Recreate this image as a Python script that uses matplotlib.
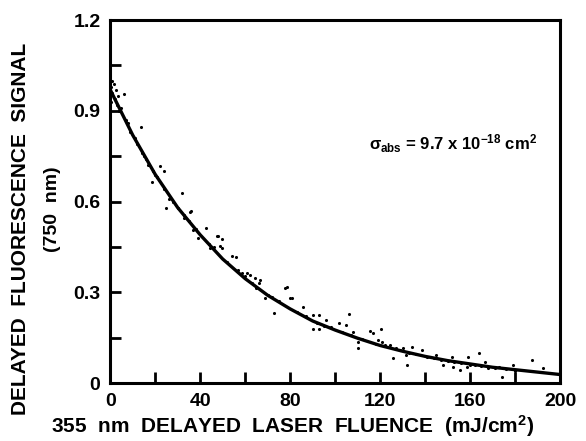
import matplotlib
matplotlib.use("Agg")
import matplotlib.pyplot as plt
from matplotlib.ticker import MultipleLocator, FixedLocator

plt.rcParams["font.family"] = ["Liberation Sans", "DejaVu Sans"]
plt.rcParams["font.weight"] = "bold"
plt.rcParams["mathtext.fontset"] = "custom"
plt.rcParams["mathtext.rm"] = "Liberation Sans:bold"
plt.rcParams["mathtext.it"] = "Liberation Sans:bold"
plt.rcParams["mathtext.bf"] = "Liberation Sans:bold"

# fitted curve
fit_x = [0, 10, 20, 30, 40, 50, 60, 70, 80, 90, 100,
         110, 120, 130, 140, 150, 160, 170, 180, 190, 200]
fit_y = [0.97, 0.82, 0.69, 0.58, 0.49, 0.41, 0.345, 0.29, 0.245, 0.205, 0.175,
         0.148, 0.124, 0.105, 0.088, 0.074, 0.063, 0.052, 0.044, 0.036, 0.028]

dots_x = [0.5, 1, 1.5, 2, 2.5, 3, 1, 0.5, 3.5, 4, 5, 7, 8, 9, 11, 12, 14, 15,
          16, 17, 19, 21, 24, 26, 28, 30, 33, 35, 38, 44, 46, 52, 57, 60, 63,
          65, 70, 72, 75, 83, 87, 92, 95, 98, 103, 107, 112, 118, 122, 127,
          129, 133, 136, 141, 144, 147, 150, 153, 156, 160, 162, 165, 168,
          171, 176, 180,
          6.2, 13.8, 22, 20, 24, 18.7, 32, 25, 35.5, 36, 33, 37, 39, 42.7,
          47.5, 49.6, 49.6, 44.4, 54, 56, 58.7, 62, 64.4, 66, 78.6, 48, 49,
          60.8, 66.7, 69, 77.8, 73, 80, 80.7, 85.8, 90, 93, 90, 93, 96,
          101.8, 106, 105, 108, 110, 110, 115.6, 117, 120.4, 119, 121, 125.8,
          124.4, 130, 132, 134, 138.7, 131.6, 145, 152, 159, 164, 148, 155.6,
          166.7, 173, 174, 179, 187.6, 192.4, 158.7, 152.4]
dots_y = [0.98, 0.96, 0.99, 0.94, 0.97, 0.92, 1.0, 0.93, 0.95, 0.90, 0.91,
          0.87, 0.86, 0.83, 0.81, 0.79, 0.76, 0.75, 0.74, 0.72, 0.70, 0.68,
          0.64, 0.61, 0.60, 0.58, 0.555, 0.535, 0.51, 0.46, 0.45, 0.40, 0.375,
          0.355, 0.33, 0.315, 0.29, 0.285, 0.27, 0.235, 0.22, 0.20, 0.19,
          0.185, 0.17, 0.16, 0.145, 0.13, 0.125, 0.115, 0.11, 0.10, 0.095,
          0.085, 0.082, 0.075, 0.072, 0.07, 0.065, 0.06, 0.058, 0.055, 0.05,
          0.048, 0.045, 0.04,
          0.955, 0.846, 0.717, 0.688, 0.70, 0.665, 0.628, 0.58, 0.565, 0.568,
          0.545, 0.506, 0.48, 0.512, 0.486, 0.476, 0.446, 0.446, 0.42, 0.417,
          0.364, 0.357, 0.347, 0.33, 0.317, 0.486, 0.453, 0.364, 0.34, 0.28,
          0.314, 0.23, 0.28, 0.281, 0.252, 0.225, 0.225, 0.18, 0.178, 0.208,
          0.198, 0.228, 0.192, 0.169, 0.136, 0.116, 0.172, 0.165, 0.178,
          0.142, 0.136, 0.083, 0.126, 0.116, 0.06, 0.119, 0.109, 0.093, 0.093,
          0.086, 0.086, 0.099, 0.06, 0.043, 0.069, 0.053, 0.02, 0.06, 0.076,
          0.05, 0.053, 0.053]

x_ticks = [0, 40, 80, 120, 160, 200]
y_ticks = [0, 0.3, 0.6, 0.9, 1.2]
y_tick_labels = ["0", "0.3", "0.6", "0.9", "1.2"]

fig = plt.figure(figsize=(5.86, 4.41), dpi=100)
ax = fig.add_axes([0.188, 0.1315, 0.768, 0.823])

ax.scatter(dots_x, dots_y, s=5, color="black", linewidths=0, zorder=3)
ax.plot(fit_x, fit_y, color="black", lw=2.4, zorder=4)

ax.set_xlim(0, 200)
ax.set_ylim(0, 1.2)
ax.xaxis.set_major_locator(FixedLocator(x_ticks))
ax.xaxis.set_minor_locator(MultipleLocator(20))
ax.yaxis.set_major_locator(FixedLocator(y_ticks))
ax.yaxis.set_minor_locator(MultipleLocator(0.15))
ax.set_xticklabels([str(t) for t in x_ticks])
ax.set_yticklabels(y_tick_labels)

for s in ax.spines.values():
    s.set_linewidth(2.2)
ax.tick_params(which="both", direction="in", length=8, width=2,
               top=False, right=False)
ax.tick_params(axis="both", labelsize=14, pad=7)

ax.text(115, 0.79,
        r"$\sigma_{\mathrm{abs}}$ = 9.7 x 10$^{\mathrm{-18}}$ cm$^{\mathrm{2}}$",
        fontsize=12, va="center", ha="left")

fig.text(0.035, 0.48, "DELAYED  FLUORESCENCE  SIGNAL", rotation=90,
         ha="center", va="center", fontsize=15)
fig.text(0.09, 0.525, "(750  nm)", rotation=90,
         ha="center", va="center", fontsize=14)
fig.text(0.5, 0.035,
         r"355  nm  DELAYED  LASER  FLUENCE  (mJ/cm$^{\mathrm{2}}$)",
         ha="center", va="center", fontsize=15)

fig.savefig("out.png", dpi=100)
